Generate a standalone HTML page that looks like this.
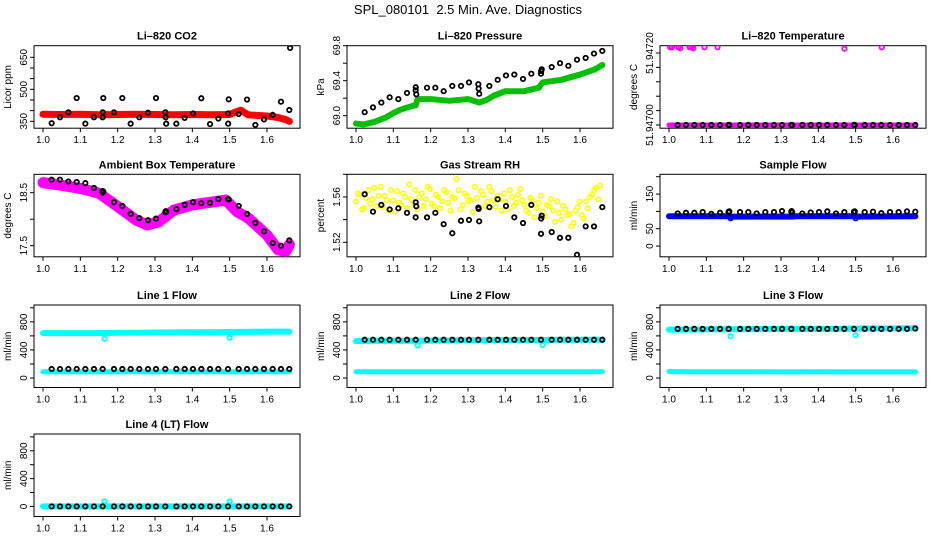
<!DOCTYPE html>
<html><head><meta charset="utf-8">
<style>
html,body{margin:0;padding:0;background:#fff;}
svg{display:block;font-family:"Liberation Sans",sans-serif;}
</style></head>
<body>
<svg id="chart" width="936" height="540" viewBox="0 0 936 540" xmlns="http://www.w3.org/2000/svg">
<rect width="936" height="540" fill="#fff"/>
<text x="468" y="14" text-anchor="middle" font-size="13" style="white-space:pre">SPL_080101&#160; 2.5 Min. Ave. Diagnostics</text>
</svg>
<script>
// ---- shared x data ----
const blackX = [1.0232,1.0455,1.0679,1.0902,1.1134,1.1366,1.1598,1.1902,1.2125,1.2348,1.2580,1.2813,1.3027,1.3277,1.3572,1.3795,1.4018,1.4241,1.4474,1.4697,1.4956,1.5242,1.5465,1.5688,1.5920,1.6152,1.6375,1.6598];
const clusterX = [1.1600,1.1615,1.3285,1.3300,1.4960,1.4975];
const xTickVals = [1.0,1.1,1.2,1.3,1.4,1.5,1.6];
const xTickLabels = ["1.0","1.1","1.2","1.3","1.4","1.5","1.6"];

// ---- CO2 ----
const co2Black = [341,369,392,459,339,369,369,392,459,339,369,390,459,392,339,366,387,458,337,363,387,384,452,333,359,380,442,403];
const co2Cluster = [392,459,369,339,339,453];
const co2BandX = [1.0,1.05,1.1,1.15,1.2,1.25,1.3,1.35,1.4,1.45,1.5,1.515,1.53,1.55,1.6,1.63,1.65,1.66];
const co2BandY = [383,382,383,381,382,383,382,381,382,381,382,393,402,380,375,368,358,350];
const co2ExtraX = [1.6620];
const co2ExtraY = [694];

// ---- Pressure ----
const presBlack = [69.04,69.095,69.15,69.21,69.19,69.26,69.29,69.32,69.32,69.28,69.34,69.34,69.38,69.36,69.34,69.41,69.46,69.47,69.42,69.48,69.48,69.556,69.60,69.57,69.64,69.66,69.71,69.74];
const presCluster = [69.325,69.245,69.31,69.25,69.51,69.53];
const presBandX = [1.0,1.02,1.05,1.08,1.1,1.12,1.15,1.16,1.165,1.2,1.25,1.3,1.33,1.35,1.37,1.4,1.45,1.49,1.5,1.55,1.6,1.64,1.66];
const presBandY = [68.91,68.90,68.93,68.98,69.03,69.07,69.11,69.12,69.19,69.19,69.17,69.19,69.15,69.18,69.23,69.28,69.28,69.32,69.38,69.41,69.47,69.53,69.58];

// ---- Li-820 Temperature ----
const ltBlack = [51.947,51.947,51.947,51.947,51.947,51.947,51.947,51.947,51.947,51.947,51.947,51.947,51.947,51.947,51.947,51.947,51.947,51.947,51.947,51.947,51.947,51.947,51.947,51.947,51.947,51.947,51.947,51.947];
const ltBandX = [1.0,1.66];
const ltBandY = [51.947,51.947];
const ltOutX = [1.003,1.008,1.025,1.030,1.055,1.060,1.065,1.095,1.130,1.470,1.570];
const ltOutY = [51.947216,51.947216,51.947216,51.947213,51.947216,51.947216,51.947213,51.947216,51.947216,51.947212,51.947216];

// ---- Ambient Box Temperature ----
const ambBlack = [18.745,18.745,18.71,18.70,18.68,18.59,18.53,18.32,18.25,18.10,18.02,17.98,18.01,18.13,18.19,18.27,18.32,18.30,18.31,18.38,18.38,18.25,18.10,17.93,17.77,17.55,17.50,17.60];
const ambCluster = [18.50,18.52,18.15,18.14,18.38,18.37];
const ambBandX = [1.0,1.05,1.1,1.15,1.2,1.25,1.28,1.31,1.35,1.4,1.45,1.49,1.52,1.55,1.6,1.63,1.65,1.66];
const ambBandY = [18.69,18.64,18.58,18.49,18.24,17.98,17.89,17.95,18.17,18.27,18.32,18.36,18.14,18.02,17.70,17.42,17.39,17.52];

// ---- Gas Stream RH ----
const rhBlack = [1.5624,1.547,1.553,1.549,1.550,1.546,1.542,1.542,1.546,1.536,1.528,1.539,1.5397,1.5506,1.551,1.558,1.552,1.542,1.537,1.553,1.5275,1.529,1.524,1.524,1.509,1.534,1.534,1.551];
const rhCluster = [1.5553,1.5518,1.5494,1.5385,1.541,1.5435];
const rhYellowX = [1.000,1.011,1.022,1.033,1.044,1.055,1.066,1.077,1.088,1.099,1.110,1.121,1.132,1.143,1.154,1.165,1.176,1.187,1.198,1.209,1.220,1.231,1.242,1.253,1.264,1.275,1.286,1.297,1.308,1.319,1.330,1.341,1.352,1.363,1.374,1.385,1.396,1.407,1.418,1.429,1.440,1.451,1.462,1.473,1.484,1.495,1.506,1.517,1.528,1.539,1.550,1.561,1.572,1.583,1.594,1.605,1.616,1.627,1.638,1.649];
const rhYellowA = [1.556,1.562,1.550,1.566,1.558,1.552,1.569,1.561,1.548,1.557,1.565,1.553,1.560,1.571,1.555,1.549,1.563,1.558,1.567,1.552,1.560,1.556,1.564,1.548,1.559,1.566,1.553,1.561,1.557,1.569,1.550,1.562,1.556,1.565,1.551,1.558,1.563,1.549,1.560,1.555,1.567,1.553,1.546,1.557,1.550,1.561,1.543,1.552,1.548,1.556,1.540,1.549,1.545,1.537,1.551,1.544,1.556,1.560,1.566,1.558];
const rhYellowB = [1.563,1.549,1.559,1.554,1.568,1.561,1.551,1.557,1.566,1.547,1.555,1.563,1.550,1.558,1.566,1.560,1.552,1.569,1.554,1.562,1.550,1.566,1.555,1.560,1.576,1.549,1.563,1.556,1.547,1.559,1.565,1.552,1.569,1.557,1.561,1.548,1.556,1.566,1.552,1.562,1.557,1.548,1.559,1.542,1.555,1.547,1.553,1.558,1.538,1.546,1.552,1.544,1.534,1.548,1.556,1.541,1.550,1.562,1.568,1.570];

// ---- Sample Flow ----
const sfBlack = [94,96,96,98,93,96,99,98,98,94,98,98,101,99,94,97,98,100,94,98,99,98,99,95,98,98,100,99];
const sfCluster = [97,100,101,97,97,100];
const sfBandX = [1.0,1.16,1.17,1.33,1.34,1.5,1.51,1.66];
const sfBandY = [86,86,85,85,86,86,85,86];
const sfOutX = [1.165,1.500];
const sfOutY = [80,80];

// ---- Line flows ----
const flowBandX = [1.0,1.05,1.1,1.15,1.2,1.25,1.3,1.35,1.4,1.45,1.5,1.55,1.6,1.65,1.66];
const l1Upper = [640,640,640,640,645,645,648,650,652,652,655,658,660,660,660];
const l1Lower = [90,90,90,90,90,90,90,90,90,90,90,90,90,90,90];
const l1Black = [128,128,128,128,128,128,128,128,128,128,128,128,128,128,128,128,128,128,128,128,128,128,128,128,128,128,128,128];
const l1OutY = [560,574];
const l2Upper = [525,530,530,530,532,535,538,540,540,540,542,545,545,545,545];
const l2Lower = [90,90,90,90,90,90,90,90,90,90,90,90,90,90,90];
const l2Black = [545,545,545,545,545,545,545,545,545,545,545,545,545,545,545,545,545,545,545,545,545,545,545,545,545,545,545,545];
const l2OutY = [464,470];
const l3Upper = [690,690,692,695,695,698,700,700,700,700,703,705,705,708,710];
const l3Lower = [92,90,90,90,90,90,88,88,90,88,88,88,88,88,88];
const l3Black = [700,700,700,700,700,700,700,700,700,700,700,700,700,700,700,700,700,700,700,700,700,700,700,700,700,700,700,705];
const l3OutY = [595,610];
const l4Upper = [0,0,0,0,0,0,0,0,0,0,0,0,0,0,0];
const l4Black = [0,0,0,0,0,0,0,0,0,0,0,0,0,0,0,0,0,0,0,0,0,0,0,0,0,0,0,0];
const l4OutY = [72,72];
const flowOutX = [1.165,1.500];

const NS = "http://www.w3.org/2000/svg";
const svg = document.getElementById("chart");
const COLS = [34, 347, 660], ROWS = [45.7, 174.3, 305, 434], PW = 266, PH = 82.5;
const XMIN = 1 - 9/373.3, XMAX = XMIN + PW/373.3;

function el(tag, parent){ const e = document.createElementNS(NS, tag); parent.appendChild(e); return e; }

function makePanel(name, col, row, y0, y1, ticks, labVals, labTxt, title, ylab){
  const L = COLS[col], T = ROWS[row];
  const sx = v => L + (v - XMIN)/(XMAX - XMIN)*PW;
  const sy = v => T + PH - (v - y0)/(y1 - y0)*PH;
  const g = el("g", svg);
  
  
  const box = el("rect", g);
  
  
  box.setAttribute("x", L); box.setAttribute("y", T); box.setAttribute("width", PW); box.setAttribute("height", PH);
  box.setAttribute("fill", "none"); box.setAttribute("stroke", "#000"); box.setAttribute("stroke-width", "1");
  const tt = el("text", g);
  
  
  tt.setAttribute("x", L + PW/2); tt.setAttribute("y", T - 6); tt.setAttribute("text-anchor", "middle");
  tt.setAttribute("font-size", "11"); tt.setAttribute("font-weight", "bold"); tt.textContent = title;
  const yl = el("text", g);
  
  
  const ylx = L - 23, yly = T + PH/2;
  yl.setAttribute("transform", `translate(${ylx},${yly}) rotate(-90)`); yl.setAttribute("text-anchor", "middle");
  yl.setAttribute("font-size", "10"); yl.textContent = ylab;
  xTickVals.forEach((v, i) => {
    const tk = el("line", g);
    
    
    tk.setAttribute("x1", sx(v)); tk.setAttribute("x2", sx(v)); tk.setAttribute("y1", T + PH); tk.setAttribute("y2", T + PH + 4);
    tk.setAttribute("stroke", "#000");
    const lb = el("text", g);
    
    
    lb.setAttribute("x", sx(v)); lb.setAttribute("y", T + PH + 15); lb.setAttribute("text-anchor", "middle");
    lb.setAttribute("font-size", "10"); lb.textContent = xTickLabels[i];
  });
  ticks.forEach(v => {
    const tk = el("line", g);
    
    
    tk.setAttribute("x1", L); tk.setAttribute("x2", L - 4); tk.setAttribute("y1", sy(v)); tk.setAttribute("y2", sy(v));
    tk.setAttribute("stroke", "#000");
  });
  labVals.forEach((v, i) => {
    const lb = el("text", g);
    
    
    lb.setAttribute("transform", `translate(${L - 7},${sy(v)}) rotate(-90)`);
    lb.setAttribute("text-anchor", "middle"); lb.setAttribute("font-size", "10"); lb.textContent = labTxt[i];
  });
  const clip = el("clipPath", g); clip.setAttribute("id", "clip-" + name);
  const cr = el("rect", clip); cr.setAttribute("x", L); cr.setAttribute("y", T); cr.setAttribute("width", PW); cr.setAttribute("height", PH);
  const data = el("g", g);
  
  
  data.setAttribute("clip-path", `url(#clip-${name})`);
  return {sx, sy, g: data, name};
}

function band(p, xs, ys, color, w, label){
  const pl = el("polyline", p.g);
  
  
  pl.setAttribute("points", xs.map((x, i) => p.sx(x) + "," + p.sy(ys[i])).join(" "));
  pl.setAttribute("fill", "none"); pl.setAttribute("stroke", color); pl.setAttribute("stroke-width", w);
  pl.setAttribute("stroke-linejoin", "round"); pl.setAttribute("stroke-linecap", "round");
}
function pts(p, xs, ys, color, label, sw){
  const n = Math.min(xs.length, ys.length);
  for (let i = 0; i < n; i++){
    const c = el("circle", p.g);
    
    
    c.setAttribute("cx", p.sx(xs[i])); c.setAttribute("cy", p.sy(ys[i])); c.setAttribute("r", 2.2);
    c.setAttribute("fill", "none"); c.setAttribute("stroke", color); c.setAttribute("stroke-width", sw || 1.8);
  }
}

// CO2
let p = makePanel("co2", 0, 0, 317.7, 704.5, [350,400,450,500,550,600,650], [350,500,650], ["350","500","650"], "Li\u2013820 CO2", "Licor ppm");
band(p, co2BandX, co2BandY, "#ff0000", 7, "red-band");
pts(p, blackX, co2Black, "#000", "black-point");
pts(p, clusterX, co2Cluster, "#000", "black-point");
pts(p, co2ExtraX, co2ExtraY, "#000", "black-point");

// Pressure
p = makePanel("pressure", 1, 0, 68.857, 69.80, [69.0,69.2,69.4,69.6,69.8], [69.0,69.4,69.8], ["69.0","69.4","69.8"], "Li\u2013820 Pressure", "kPa");
band(p, presBandX, presBandY, "#00c000", 6, "green-band");
pts(p, blackX, presBlack, "#000", "black-point");
pts(p, clusterX, presCluster, "#000", "black-point");

// Li-820 Temperature
p = makePanel("li820-temp", 2, 0, 51.9469911, 51.9472203, [51.94700,51.94704,51.94708,51.94712,51.94716,51.94720], [51.94700,51.94720], ["51.94700","51.94720"], "Li\u2013820 Temperature", "degrees C");
band(p, ltBandX, ltBandY, "#ff00ff", 5, "magenta-band");
pts(p, ltOutX, ltOutY, "#ff00ff", "magenta-point");
pts(p, blackX, ltBlack, "#000", "black-point");
pts(p, clusterX, ltBlack.slice(0, 6), "#000", "black-point");

// Ambient
p = makePanel("ambient-temp", 0, 1, 17.29, 18.847, [17.5,18.0,18.5], [17.5,18.5], ["17.5","18.5"], "Ambient Box Temperature", "degrees C");
band(p, ambBandX, ambBandY, "#ff00ff", 11, "magenta-band");
pts(p, blackX, ambBlack, "#000", "black-point");
pts(p, clusterX, ambCluster, "#000", "black-point");

// RH
p = makePanel("gas-rh", 1, 1, 1.5072, 1.5800, [1.52,1.54,1.56,1.58], [1.52,1.56], ["1.52","1.56"], "Gas Stream RH", "percent");
pts(p, rhYellowX, rhYellowA, "#ffff00", "yellow-point", 1.6);
pts(p, rhYellowX.map(x => x + 0.005), rhYellowB, "#ffff00", "yellow-point", 1.6);
pts(p, blackX, rhBlack, "#000", "black-point");
pts(p, clusterX, rhCluster, "#000", "black-point");

// Sample flow
p = makePanel("sample-flow", 2, 1, -31, 207, [0,50,100,150,200], [0,50,150], ["0","50","150"], "Sample Flow", "ml/min");
band(p, sfBandX, sfBandY, "#0000ff", 6, "blue-band");
pts(p, sfOutX, sfOutY, "#0000ff", "blue-point");
pts(p, blackX, sfBlack, "#000", "black-point");
pts(p, clusterX, sfCluster, "#000", "black-point");

const fT = [0,200,400,600,800,1000], fL = [0,400,800], fLT = ["0","400","800"];
// Line 1
p = makePanel("line1-flow", 0, 2, -135, 1040, fT, fL, fLT, "Line 1 Flow", "ml/min");
band(p, flowBandX, l1Upper, "#00ffff", 6, "cyan-upper-band");
band(p, flowBandX, l1Lower, "#00ffff", 5, "cyan-lower-band");
pts(p, flowOutX, l1OutY, "#00ffff", "cyan-point");
pts(p, blackX, l1Black, "#000", "black-point");
// Line 2
p = makePanel("line2-flow", 1, 2, -135, 1040, fT, fL, fLT, "Line 2 Flow", "ml/min");
band(p, flowBandX, l2Upper, "#00ffff", 6, "cyan-upper-band");
band(p, flowBandX, l2Lower, "#00ffff", 5, "cyan-lower-band");
pts(p, flowOutX, l2OutY, "#00ffff", "cyan-point");
pts(p, blackX, l2Black, "#000", "black-point");
// Line 3
p = makePanel("line3-flow", 2, 2, -135, 1040, fT, fL, fLT, "Line 3 Flow", "ml/min");
band(p, flowBandX, l3Upper, "#00ffff", 6, "cyan-upper-band");
band(p, flowBandX, l3Lower, "#00ffff", 5, "cyan-lower-band");
pts(p, flowOutX, l3OutY, "#00ffff", "cyan-point");
pts(p, blackX, l3Black, "#000", "black-point");
// Line 4
p = makePanel("line4-flow", 0, 3, -145, 1042, fT, fL, fLT, "Line 4 (LT) Flow", "ml/min");
band(p, flowBandX, l4Upper, "#00ffff", 6, "cyan-band");
pts(p, flowOutX, l4OutY, "#00ffff", "cyan-point");
pts(p, blackX, l4Black, "#000", "black-point");
</script>
</body></html>
